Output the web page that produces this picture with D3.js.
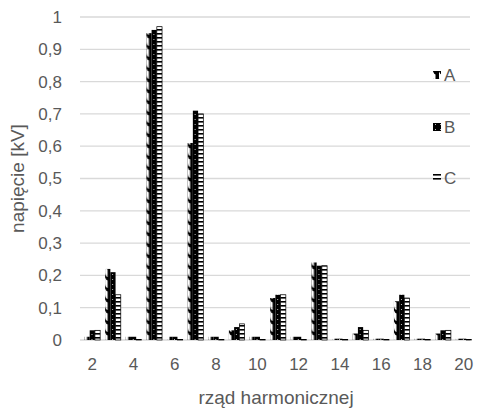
<!DOCTYPE html>
<html>
<head>
<meta charset="utf-8">
<script src="https://cdn.jsdelivr.net/npm/d3@7"></script>
<style>
  body { margin: 0; background: #fff; }
  text { font-family: "Liberation Sans", Arial, sans-serif; fill: #595959; }
</style>
</head>
<body>
<svg id="chart"></svg>
<script>
// harmonic orders and voltages [kV] per phase
const harmonics = [2, 3, 4, 5, 6, 7, 8, 9, 10, 11, 12, 13, 14, 15, 16, 17, 18, 19, 20];
const seriesA = [0.01, 0.22, 0.01, 0.95, 0.01, 0.61, 0.01, 0.03, 0.01, 0.13, 0.01, 0.24, 0.004, 0.02, 0.004, 0.12, 0.004, 0.02, 0.004];
const seriesB = [0.03, 0.21, 0.01, 0.96, 0.01, 0.71, 0.01, 0.04, 0.01, 0.14, 0.01, 0.23, 0.004, 0.04, 0.004, 0.14, 0.004, 0.03, 0.004];
const seriesC = [0.03, 0.14, 0.002, 0.97, 0.002, 0.70, 0.002, 0.05, 0.002, 0.14, 0.002, 0.23, 0.002, 0.03, 0.002, 0.13, 0.002, 0.03, 0.002];
const seriesNames = ["A", "B", "C"];
const yTicks = [0, 0.1, 0.2, 0.3, 0.4, 0.5, 0.6, 0.7, 0.8, 0.9, 1];
const xLabels = [2, 4, 6, 8, 10, 12, 14, 16, 18, 20];

const W = 477, H = 408;
const margin = { top: 17, right: 3, bottom: 68, left: 82 };
const width = W - margin.left - margin.right;
const height = H - margin.top - margin.bottom;

const svg = d3.select("#chart").attr("width", W).attr("height", H);
const defs = svg.append("defs");

// A: hooks on the left, black strip on the right
const pA = defs.append("pattern").attr("id", "patA")
    .attr("patternUnits", "userSpaceOnUse").attr("width", 6).attr("height", 11);
pA.append("rect").attr("x", 2.5).attr("y", 0).attr("width", 3.5).attr("height", 11).attr("fill", "#000");
pA.append("path").attr("d", "M0,3 Q0.5,7 3,7 L3,10.5 Q0,10 -0.5,5 Z").attr("fill", "#000");

// B: black with sparse white dots
const pB = defs.append("pattern").attr("id", "patB")
    .attr("patternUnits", "userSpaceOnUse").attr("width", 5).attr("height", 5);
pB.append("rect").attr("width", 5).attr("height", 5).attr("fill", "#000");
pB.append("rect").attr("x", 2).attr("y", 2).attr("width", 1).attr("height", 1).attr("fill", "#bbb");

// C: horizontal stripes
const pC = defs.append("pattern").attr("id", "patC")
    .attr("patternUnits", "userSpaceOnUse").attr("width", 6).attr("height", 4);
pC.append("rect").attr("width", 6).attr("height", 4).attr("fill", "#fff");
pC.append("rect").attr("y", 0).attr("width", 6).attr("height", 1.6).attr("fill", "#000");

const fills = { A: "url(#patA)", B: "url(#patB)", C: "url(#patC)" };

const g = svg.append("g").attr("transform", `translate(${margin.left},${margin.top})`);

const x = d3.scaleBand().domain(harmonics).range([0, width]).paddingInner(0.24).paddingOuter(0.12);
const xs = d3.scaleBand().domain(seriesNames).range([0, x.bandwidth()]).padding(0);
const y = d3.scaleLinear().domain([0, 1]).range([height, 0]);

// gridlines
g.selectAll("line.grid").data(yTicks).enter().append("line")
    .attr("x1", -2).attr("x2", width - 4)
    .attr("y1", d => y(d)).attr("y2", d => y(d))
    .attr("stroke", "#d9d9d9").attr("stroke-width", 1.3);

// y tick labels
g.selectAll("text.ytick").data(yTicks).enter().append("text")
    .attr("x", -20).attr("y", d => y(d)).attr("dy", "0.35em")
    .attr("text-anchor", "end").attr("font-size", 17)
    .text(d => d3.format(".1f")(d).replace(".", ",").replace(/^0,0$/, "0").replace(/^1,0$/, "1"));

const data = harmonics.map((h, i) => ({ h: h, A: seriesA[i], B: seriesB[i], C: seriesC[i] }));

const groups = g.selectAll("g.grp").data(data).enter().append("g")
    .attr("transform", d => `translate(${x(d.h)},0)`);

groups.selectAll("rect").data(d => seriesNames.map(k => ({ key: k, value: d[k] })))
    .enter().append("rect")
    .attr("x", d => xs(d.key))
    .attr("y", d => y(d.value))
    .attr("width", xs.bandwidth())
    .attr("height", d => height - y(d.value))
    .attr("fill", d => fills[d.key])
    .attr("stroke", d => d.key === "C" ? "#000" : "none")
    .attr("stroke-width", 0.7);

// x tick labels
g.selectAll("text.xtick").data(xLabels).enter().append("text")
    .attr("x", d => x(d) + x.bandwidth() / 2).attr("y", height + 30)
    .attr("text-anchor", "middle").attr("font-size", 17)
    .text(d => d);

// axis titles
svg.append("text")
    .attr("x", 276).attr("y", 404)
    .attr("text-anchor", "middle").attr("font-size", 19)
    .text("rząd harmonicznej");

svg.append("text")
    .attr("transform", `translate(24,${margin.top + height / 2}) rotate(-90)`)
    .attr("text-anchor", "middle").attr("font-size", 19)
    .text("napięcie [kV]");

// legend
const legY = [75, 127, 178];
const leg = svg.selectAll("g.leg").data(seriesNames).enter().append("g")
    .attr("transform", (d, i) => `translate(433,${legY[i]})`);
leg.append("rect").attr("x", 0).attr("y", -4).attr("width", 8).attr("height", 8)
    .attr("fill", d => fills[d]);
leg.append("text").attr("x", 11).attr("y", 0).attr("dy", "0.35em")
    .attr("font-size", 17).text(d => d);
</script>
</body>
</html>
